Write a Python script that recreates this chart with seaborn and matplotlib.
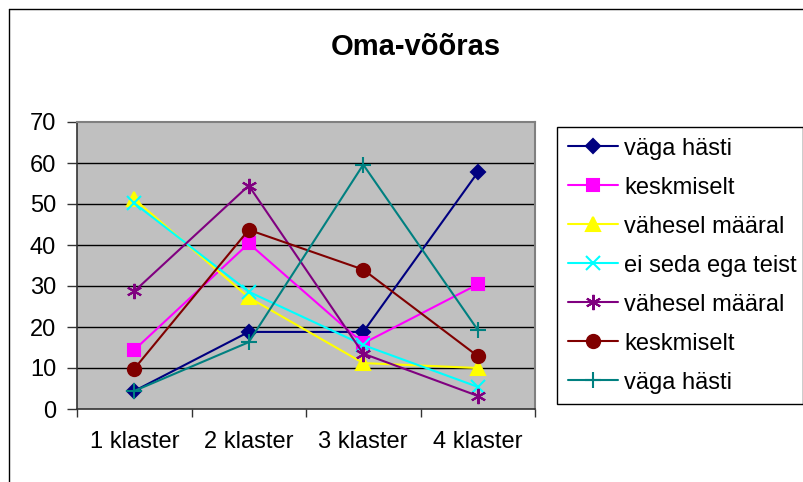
import matplotlib
matplotlib.use("Agg")
import matplotlib.pyplot as plt
import seaborn as sns
import pandas as pd
from matplotlib.lines import Line2D

sns.set_theme(style="white")
plt.rcParams["font.family"] = ["Liberation Sans", "DejaVu Sans"]
plt.rcParams["text.color"] = "black"
plt.rcParams["xtick.color"] = "black"
plt.rcParams["ytick.color"] = "black"
plt.rcParams["xtick.labelcolor"] = "black"
plt.rcParams["ytick.labelcolor"] = "black"

# --- data -------------------------------------------------------------
categories = ["1 klaster", "2 klaster", "3 klaster", "4 klaster"]
series_labels = ["väga hästi", "keskmiselt", "vähesel määral", "ei seda ega teist",
                 "vähesel määral", "keskmiselt", "väga hästi"]
vaga_hasti_1 = [4.4, 18.8, 18.8, 57.7]
keskmiselt_1 = [14.4, 40.4, 16.0, 30.4]
vahesel_maaral_1 = [51.2, 27.2, 11.2, 10.0]
ei_seda_ega_teist = [50.2, 28.6, 15.6, 5.4]
vahesel_maaral_2 = [28.7, 54.5, 13.5, 3.2]
keskmiselt_2 = [9.8, 43.7, 34.0, 12.9]
vaga_hasti_2 = [4.4, 16.3, 59.6, 19.3]
y_ticks = [0, 10, 20, 30, 40, 50, 60, 70]
title = "Oma-võõras"

all_values = [vaga_hasti_1, keskmiselt_1, vahesel_maaral_1, ei_seda_ega_teist,
              vahesel_maaral_2, keskmiselt_2, vaga_hasti_2]

# --- styles -----------------------------------------------------------
colors = ["#000080", "#FF00FF", "#FFFF00", "#00FFFF", "#800080", "#800000", "#008080"]
markers = ["D", "s", "^", "x", (6, 2, 0), "o", "+"]
msizes = [7.5, 8.5, 9.5, 10, 11, 9.5, 11]

W, H = 804, 482
fig = plt.figure(figsize=(W / 100, H / 100), dpi=100)
fig.patch.set_facecolor("white")

# plot area in pixel coordinates
x0, x1, y_top, y_bot = 77, 535, 122, 409
ax = fig.add_axes([x0 / W, 1 - y_bot / H, (x1 - x0) / W, (y_bot - y_top) / H])
ax.set_facecolor("#C0C0C0")

positions = list(range(len(categories)))
for vals, lab, c, m, ms in zip(all_values, series_labels, colors, markers, msizes):
    df = pd.DataFrame({"pos": positions, "value": vals})
    sns.lineplot(data=df, x="pos", y="value", ax=ax, color=c, marker=m,
                 markersize=ms, markeredgecolor=c, markeredgewidth=1.5,
                 linewidth=1.5, label=lab, zorder=3)

ax.set_xlim(-0.5, len(categories) - 0.5)
ax.set_ylim(0, 70)
ax.set_xlabel("")
ax.set_ylabel("")

# horizontal gridlines
for yv in y_ticks[1:-1]:
    ax.axhline(yv, color="black", linewidth=1, zorder=1)

# y axis ticks
ax.set_yticks(y_ticks)
ax.set_yticklabels([str(v) for v in y_ticks], fontsize=17)
ax.tick_params(axis="y", direction="out", length=7, width=1, color="#333333", pad=8,
               left=True)

# x ticks: marks at boundaries, labels at centers
ax.set_xticks([p - 0.5 for p in positions] + [len(categories) - 0.5])
ax.set_xticklabels([])
ax.set_xticks(positions, minor=True)
ax.set_xticklabels(categories, minor=True, fontsize=17)
ax.tick_params(axis="x", which="major", direction="out", length=6, width=1,
               color="#333333", bottom=True)
ax.tick_params(axis="x", which="minor", length=0, pad=16)

for s in ["top", "right"]:
    ax.spines[s].set_color("#808080")
    ax.spines[s].set_linewidth(1.5)
for s in ["left", "bottom"]:
    ax.spines[s].set_color("#333333")
    ax.spines[s].set_linewidth(1.2)

# title
fig.text(416 / W, 1 - 47 / H, title, ha="center", va="center",
         fontsize=21, fontweight="bold")

# legend
handles, labels = ax.get_legend_handles_labels()
if ax.get_legend():
    ax.get_legend().remove()
leg = fig.legend(handles, labels, loc="upper left", mode="expand",
                 bbox_to_anchor=(557 / W, 1 - 127 / H, 246 / W, 0.0),
                 bbox_transform=fig.transFigure,
                 fontsize=17, frameon=True, fancybox=False, framealpha=1,
                 edgecolor="black", labelspacing=0.72, handlelength=2.15,
                 handletextpad=0.25, borderpad=0.45, borderaxespad=0)
leg.get_frame().set_linewidth(1)

# outer chart border (left and top edges)
fig.add_artist(Line2D([9 / W, 9 / W], [0, 1 - 9 / H], transform=fig.transFigure,
                      color="black", linewidth=1))
fig.add_artist(Line2D([9 / W, 1], [1 - 9 / H, 1 - 9 / H], transform=fig.transFigure,
                      color="black", linewidth=1))

fig.savefig("out.png", dpi=100)
